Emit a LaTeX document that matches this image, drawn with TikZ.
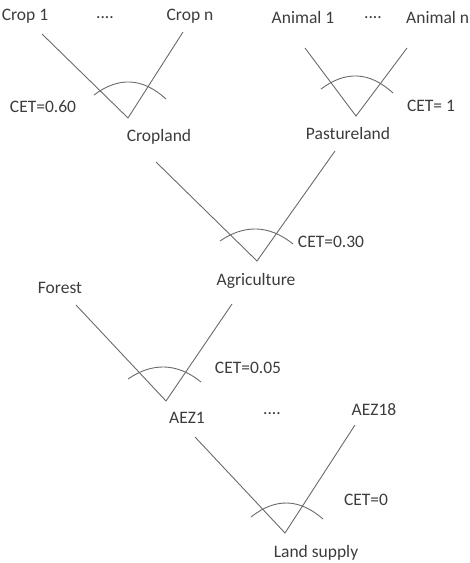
\documentclass[tikz,border=0pt]{standalone}
\usepackage{fontspec}
\setmainfont{Carlito}
\definecolor{txt}{HTML}{3C3C3C}
\definecolor{ln}{HTML}{6A6A6A}
\tikzset{
  lbl/.style={text=txt, font=\fontsize{17.5}{20}\selectfont, inner sep=0pt},
  arm/.style={draw=ln, line width=0.9pt},
  cet/.style={draw=ln, line width=0.9pt},
}
\begin{document}
\begin{tikzpicture}[x=1pt,y=-1pt]
\useasboundingbox (0,0) rectangle (470,563);
% texts
\node[lbl] (crop1) at (25,16) {Crop 1};
\node[lbl] (dots1) at (105,18) {....};
\node[lbl] (cropn) at (190,16) {Crop n};
\node[lbl] (anim1) at (303,17) {Animal 1};
\node[lbl] (dots2) at (373,18) {....};
\node[lbl, anchor=west] (animn) at (406,17) {Animal n};
\node[lbl] (cet1) at (43,107) {CET=0.60};
\node[lbl] (crop) at (159,137) {Cropland};
\node[lbl] (cet2) at (431,106) {CET= 1};
\node[lbl] (past) at (348,133) {Pastureland};
\node[lbl] (cet3) at (331,242) {CET=0.30};
\node[lbl] (agri) at (256,281) {Agriculture};
\node[lbl] (forest) at (60,288) {Forest};
\node[lbl] (cet4) at (248,368) {CET=0.05};
\node[lbl] (aez1) at (187,418) {AEZ1};
\node[lbl] (dots3) at (272,414) {....};
\node[lbl] (aez18) at (374,410) {AEZ18};
\node[lbl] (cet5) at (366,500) {CET=0};
\node[lbl] (land) at (316,553) {Land supply};
% arm ends and vertices
\coordinate (a1) at (42,34);  \coordinate (v1) at (128,118); \coordinate (b1) at (183,32);
\coordinate (a2) at (305,48); \coordinate (v2) at (356,116); \coordinate (b2) at (407,48);
\coordinate (a3) at (156,162);\coordinate (v3) at (257,261); \coordinate (b3) at (335,151);
\coordinate (a4) at (76,305); \coordinate (v4) at (166,401); \coordinate (b4) at (232,304);
\coordinate (a5) at (195,437);\coordinate (v5) at (285,533); \coordinate (b5) at (355,425);
\draw[arm] (a1) -- (v1) -- (b1);
\draw[arm] (a2) -- (v2) -- (b2);
\draw[arm] (a3) -- (v3) -- (b3);
\draw[arm] (a4) -- (v4) -- (b4);
\draw[arm] (a5) -- (v5) -- (b5);
% CET arcs
\coordinate (p1) at (94,95);  \coordinate (q1) at (166,99);
\coordinate (p2) at (321,89); \coordinate (q2) at (393,93);
\coordinate (p3) at (220,241);\coordinate (q3) at (293,244);
\coordinate (p4) at (128,379);\coordinate (q4) at (201,382);
\coordinate (p5) at (251,517);\coordinate (q5) at (323,519);
\draw[cet] (p1) .. controls (118,77) and (142,77) .. (q1);
\draw[cet] (p2) .. controls (345,71) and (369,71) .. (q2);
\draw[cet] (p3) .. controls (244,224.5) and (269,224.5) .. (q3);
\draw[cet] (p4) .. controls (152,362.5) and (177,362.5) .. (q4);
\draw[cet] (p5) .. controls (275,498) and (299,498) .. (q5);
\end{tikzpicture}
\end{document}
